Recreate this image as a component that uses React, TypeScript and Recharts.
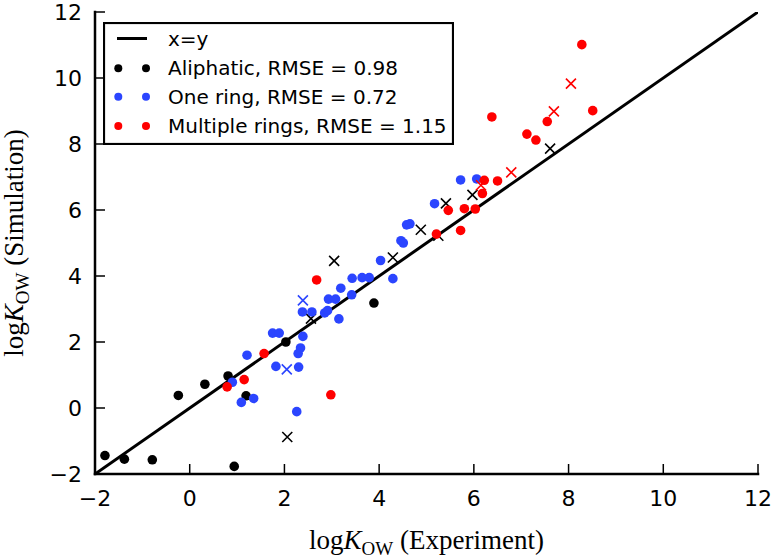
import React from 'react';
import { ScatterChart, Scatter, XAxis, YAxis, Legend, Label } from 'recharts';

const xTicks = [-2, 0, 2, 4, 6, 8, 10, 12];
const yTicks = [-2, 0, 2, 4, 6, 8, 10, 12];
const identityLine = [{ x: -2, y: -2 }, { x: 12, y: 12 }];

const aliphaticDots = [
  { x: -1.79, y: -1.44 }, { x: -1.38, y: -1.55 }, { x: -0.79, y: -1.57 }, { x: -0.24, y: 0.38 },
  { x: 0.32, y: 0.72 }, { x: 0.81, y: 0.97 }, { x: 1.19, y: 0.37 }, { x: 0.94, y: -1.77 },
  { x: 2.03, y: 2.0 }, { x: 3.89, y: 3.18 },
];
const aliphaticCrosses = [
  { x: 2.06, y: -0.88 }, { x: 2.56, y: 2.71 }, { x: 3.05, y: 4.46 }, { x: 4.29, y: 4.56 },
  { x: 4.88, y: 5.4 }, { x: 5.25, y: 5.22 }, { x: 5.41, y: 6.2 }, { x: 5.97, y: 6.46 },
  { x: 7.61, y: 7.86 },
];
const oneRingDots = [
  { x: 0.9, y: 0.78 }, { x: 1.09, y: 0.17 }, { x: 1.35, y: 0.29 }, { x: 1.21, y: 1.6 },
  { x: 1.75, y: 2.27 }, { x: 1.89, y: 2.27 }, { x: 1.82, y: 1.26 }, { x: 2.26, y: -0.11 },
  { x: 2.3, y: 1.24 }, { x: 2.29, y: 1.65 }, { x: 2.34, y: 1.82 }, { x: 2.39, y: 2.17 },
  { x: 2.38, y: 2.91 }, { x: 2.58, y: 2.91 }, { x: 2.85, y: 2.88 }, { x: 2.91, y: 2.95 },
  { x: 2.93, y: 3.3 }, { x: 3.08, y: 3.3 }, { x: 3.15, y: 2.7 }, { x: 3.19, y: 3.63 },
  { x: 3.42, y: 3.43 }, { x: 3.43, y: 3.93 }, { x: 3.64, y: 3.95 }, { x: 3.79, y: 3.95 },
  { x: 4.03, y: 4.47 }, { x: 4.29, y: 3.92 }, { x: 4.46, y: 5.07 }, { x: 4.51, y: 5.0 },
  { x: 4.58, y: 5.55 }, { x: 4.65, y: 5.58 }, { x: 5.17, y: 6.19 }, { x: 5.72, y: 6.91 },
  { x: 6.06, y: 6.94 },
];
const oneRingCrosses = [{ x: 2.39, y: 3.26 }, { x: 2.05, y: 1.17 }];
const multiRingDots = [
  { x: 0.79, y: 0.64 }, { x: 1.15, y: 0.86 }, { x: 1.57, y: 1.65 }, { x: 2.68, y: 3.88 },
  { x: 2.98, y: 0.4 }, { x: 5.21, y: 5.27 }, { x: 5.46, y: 5.99 }, { x: 5.72, y: 5.38 },
  { x: 5.8, y: 6.04 }, { x: 6.03, y: 6.03 }, { x: 6.18, y: 6.5 }, { x: 6.22, y: 6.9 },
  { x: 6.5, y: 6.88 }, { x: 6.38, y: 8.82 }, { x: 7.12, y: 8.3 }, { x: 7.31, y: 8.12 },
  { x: 7.55, y: 8.68 }, { x: 8.28, y: 11.01 }, { x: 8.51, y: 9.01 },
];
const multiRingCrosses = [
  { x: 6.15, y: 6.75 }, { x: 6.79, y: 7.14 }, { x: 7.69, y: 8.99 }, { x: 8.05, y: 9.83 },
];

const seriesNames = ['Aliphatic, RMSE = 0.98', 'One ring, RMSE = 0.72', 'Multiple rings, RMSE = 1.15'];
const seriesColors = ['#000000', '#2b45ff', '#ff0000'];
const lineName = 'x=y';

const TICK_FONT = 'DejaVu Sans';
const fmt = (v: number) => (v < 0 ? '\u2212' + Math.abs(v) : String(v));

const dotShape = (color: string) => (p: any) => (
  <circle cx={p.cx} cy={p.cy} r={4.8} fill={color} />
);
const crossShape = (color: string) => (p: any) => {
  const s = 5;
  return (
    <path
      d={`M${p.cx - s},${p.cy - s}L${p.cx + s},${p.cy + s}M${p.cx - s},${p.cy + s}L${p.cx + s},${p.cy - s}`}
      stroke={color}
      strokeWidth={1.6}
      fill="none"
    />
  );
};
const noShape = () => <g />;

const BottomTick = (p: any) => (
  <g>
    <line x1={p.x} x2={p.x} y1={p.y} y2={p.y - 10} stroke="#000" strokeWidth={1.5} />
    <text x={p.x} y={p.y + 32} textAnchor="middle" fontSize={22} fontFamily={TICK_FONT} fill="#000">
      {fmt(p.payload.value)}
    </text>
  </g>
);
const TopTick = (p: any) => (
  <line x1={p.x} x2={p.x} y1={p.y} y2={p.y + 10} stroke="#000" strokeWidth={1.5} />
);
const LeftTick = (p: any) => (
  <g>
    <line x1={p.x} x2={p.x + 10} y1={p.y} y2={p.y} stroke="#000" strokeWidth={1.5} />
    <text x={p.x - 13} y={p.y + 8} textAnchor="end" fontSize={22} fontFamily={TICK_FONT} fill="#000">
      {fmt(p.payload.value)}
    </text>
  </g>
);
const RightTick = (p: any) => (
  <line x1={p.x} x2={p.x - 10} y1={p.y} y2={p.y} stroke="#000" strokeWidth={1.5} />
);

const LABEL_FONT = 'Liberation Serif';
const axisLabelText = (suffix: string) => [
  <tspan key="a">log</tspan>,
  <tspan key="b" fontStyle="italic">K</tspan>,
  <tspan key="c" fontSize={19} dy={6}>OW</tspan>,
  <tspan key="d" dy={-6}>{' ' + suffix}</tspan>,
];

const XLabel = (p: any) => {
  const vb = p.viewBox;
  return (
    <text x={vb.x + vb.width / 2} y={549} textAnchor="middle" fontSize={27} fontFamily={LABEL_FONT} fill="#000">
      {axisLabelText('(Experiment)')}
    </text>
  );
};
const YLabel = (p: any) => {
  const vb = p.viewBox;
  const cy = vb.y + vb.height / 2;
  return (
    <text
      x={23}
      y={cy}
      transform={`rotate(-90, 23, ${cy})`}
      textAnchor="middle"
      fontSize={27}
      fontFamily={LABEL_FONT}
      fill="#000"
    >
      {axisLabelText('(Simulation)')}
    </text>
  );
};

const LegendBox = () => {
  const rows = [46.3, 74.7, 104];
  return (
    <svg width={351} height={123} style={{ display: 'block' }}>
      <rect x={1} y={1} width={349} height={121} fill="#fff" stroke="#000" strokeWidth={2.2} />
      <line x1={14} x2={44} y1={16.5} y2={16.5} stroke="#000" strokeWidth={3} />
      <text x={65} y={23.5} fontSize={20} fontFamily={TICK_FONT} fill="#000">{lineName}</text>
      {seriesNames.map((n, i) => (
        <g key={n}>
          <circle cx={15.3} cy={rows[i]} r={4} fill={seriesColors[i]} />
          <circle cx={43} cy={rows[i]} r={4} fill={seriesColors[i]} />
          <text x={65} y={rows[i] + 7} fontSize={20} fontFamily={TICK_FONT} fill="#000">{n}</text>
        </g>
      ))}
    </svg>
  );
};

const axisLineStyle = { stroke: '#000', strokeWidth: 2.5, strokeLinecap: 'square' as const };

export default function App() {
  return (
    <div style={{ position: 'absolute', left: 0, top: 0, width: 776, height: 558, background: '#fff' }}>
      <ScatterChart width={776} height={558} margin={{ top: 12, right: 18, left: 0, bottom: 0 }}>
        <XAxis
          type="number"
          dataKey="x"
          xAxisId={0}
          domain={[-2, 12]}
          ticks={xTicks}
          interval={0}
          allowDataOverflow
          height={84}
          tickSize={0}
          tickMargin={0}
          tickLine={false}
          axisLine={axisLineStyle}
          tick={<BottomTick />}
          label={<Label content={<XLabel />} />}
        />
        <XAxis
          type="number"
          dataKey="x"
          xAxisId="top"
          orientation="top"
          domain={[-2, 12]}
          ticks={xTicks}
          interval={0}
          allowDataOverflow
          height={0}
          tickSize={0}
          tickMargin={0}
          tickLine={false}
          axisLine={axisLineStyle}
          tick={<TopTick />}
        />
        <YAxis
          type="number"
          dataKey="y"
          yAxisId={0}
          domain={[-2, 12]}
          ticks={yTicks}
          interval={0}
          allowDataOverflow
          width={95}
          tickSize={0}
          tickMargin={0}
          tickLine={false}
          axisLine={axisLineStyle}
          tick={<LeftTick />}
          label={<Label content={<YLabel />} />}
        />
        <YAxis
          type="number"
          dataKey="y"
          yAxisId="right"
          orientation="right"
          domain={[-2, 12]}
          ticks={yTicks}
          interval={0}
          allowDataOverflow
          width={0}
          tickSize={0}
          tickMargin={0}
          tickLine={false}
          axisLine={axisLineStyle}
          tick={<RightTick />}
        />
        <Scatter name={lineName} data={identityLine} line={{ stroke: '#000', strokeWidth: 3 }} shape={noShape} isAnimationActive={false} />
        <Scatter name={seriesNames[0]} data={aliphaticDots} shape={dotShape(seriesColors[0])} isAnimationActive={false} />
        <Scatter name="aliphatic-x" data={aliphaticCrosses} shape={crossShape(seriesColors[0])} isAnimationActive={false} />
        <Scatter name={seriesNames[1]} data={oneRingDots} shape={dotShape(seriesColors[1])} isAnimationActive={false} />
        <Scatter name="one-ring-x" data={oneRingCrosses} shape={crossShape(seriesColors[1])} isAnimationActive={false} />
        <Scatter name={seriesNames[2]} data={multiRingDots} shape={dotShape(seriesColors[2])} isAnimationActive={false} />
        <Scatter name="multi-ring-x" data={multiRingCrosses} shape={crossShape(seriesColors[2])} isAnimationActive={false} />
        <Legend
          layout="vertical"
          align="center"
          verticalAlign="middle"
          content={<LegendBox />}
          wrapperStyle={{ position: 'absolute', left: 103, top: 22, width: 351, height: 123 }}
        />
      </ScatterChart>
    </div>
  );
}
